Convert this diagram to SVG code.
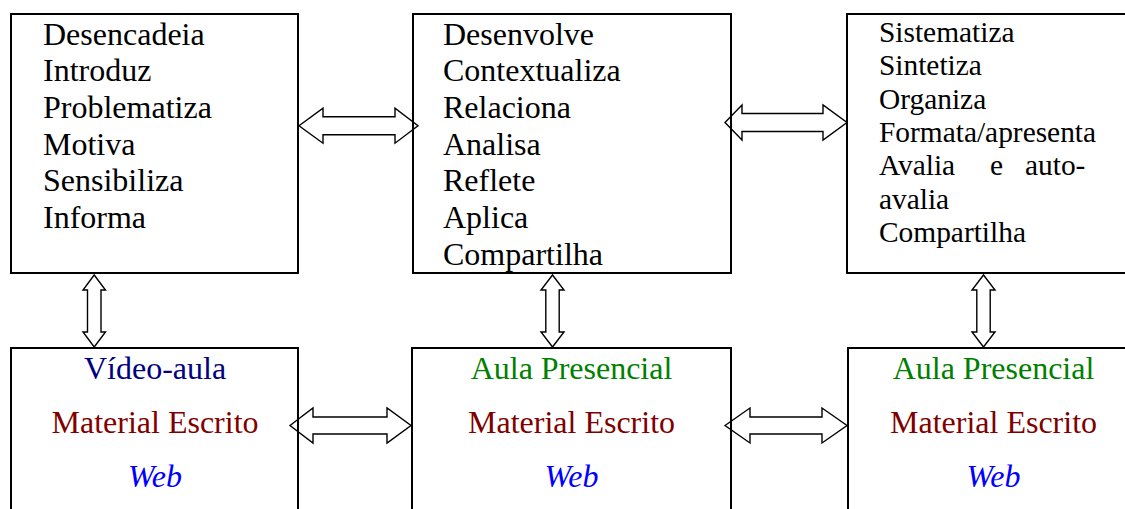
<svg xmlns="http://www.w3.org/2000/svg" width="1125" height="509" viewBox="0 0 1125 509">
<style>
.box{fill:none;stroke:#000;stroke-width:2}
.arr{fill:#fff;stroke:#000;stroke-width:1.4;stroke-linejoin:miter}
text{font-family:'Liberation Serif','Times New Roman',Times,serif}
.t{font-size:32px;fill:#000}
.t3{font-size:29.4px;fill:#000}
.c{font-size:32px;text-anchor:middle}
.nav{fill:#000080}.grn{fill:#008000}.red{fill:#800000}.web{fill:#0000ff;font-style:italic}
</style>
<rect x="0" y="0" width="1125" height="509" fill="#fff"/>
<g id="connectors">
<path class="arr" d="M299,125.7 L323,108.2 L323,116.7 L395,116.7 L395,108.2 L418,125.7 L395,143.2 L395,134.7 L323,134.7 L323,143.2 Z"/>
<path class="arr" d="M725,122.5 L742,105 L742,113.5 L823,113.5 L823,105 L847,122.5 L823,140 L823,131.5 L742,131.5 L742,140 Z"/>
<path class="arr" d="M290,425.5 L313,408 L313,417 L387,417 L387,408 L411,425.5 L387,443 L387,434 L313,434 L313,443 Z"/>
<path class="arr" d="M725,425.5 L750,408 L750,417 L822,417 L822,408 L847,425.5 L822,443 L822,434 L750,434 L750,443 Z"/>
<path class="arr" d="M94.2,275 L105.5,290 L101,290 L101,332 L105.5,332 L94.2,347 L83,332 L87.5,332 L87.5,290 L83,290 Z"/>
<path class="arr" d="M552.5,275 L564,290 L559.2,290 L559.2,332 L564,332 L552.5,347 L541,332 L545.8,332 L545.8,290 L541,290 Z"/>
<path class="arr" d="M983.5,275 L995,290 L990.2,290 L990.2,332 L995,332 L983.5,347 L972,332 L976.8,332 L976.8,290 L972,290 Z"/>
</g>
<g id="node-top1">
<rect class="box" x="11" y="14" width="287" height="259"/>
<text class="t" x="43" y="44.5">Desencadeia</text>
<text class="t" x="43" y="81.2">Introduz</text>
<text class="t" x="43" y="117.9">Problematiza</text>
<text class="t" x="43" y="154.6">Motiva</text>
<text class="t" x="43" y="191.3">Sensibiliza</text>
<text class="t" x="43" y="228">Informa</text>
</g>
<g id="node-top2">
<rect class="box" x="413" y="14" width="318" height="259"/>
<text class="t" x="443" y="44.5">Desenvolve</text>
<text class="t" x="443" y="81.2">Contextualiza</text>
<text class="t" x="443" y="117.9">Relaciona</text>
<text class="t" x="443" y="154.6">Analisa</text>
<text class="t" x="443" y="191.3">Reflete</text>
<text class="t" x="443" y="228">Aplica</text>
<text class="t" x="443" y="264.7">Compartilha</text>
</g>
<g id="node-top3">
<rect class="box" x="847" y="14" width="300" height="259"/>
<text class="t3" x="879" y="42">Sistematiza</text>
<text class="t3" x="879" y="75.3">Sintetiza</text>
<text class="t3" x="879" y="108.6">Organiza</text>
<text class="t3" x="879" y="141.9">Formata/apresenta</text>
<text class="t3" x="879" y="175.2">Avalia</text>
<text class="t3" x="990" y="175.2">e</text>
<text class="t3" x="1025" y="175.2">auto-</text>
<text class="t3" x="879" y="208.5">avalia</text>
<text class="t3" x="879" y="241.8">Compartilha</text>
</g>
<g id="node-bottom1">
<rect class="box" x="11" y="348" width="287" height="200"/>
<text class="c nav" x="155" y="379">Vídeo-aula</text>
<text class="c red" x="155" y="433">Material Escrito</text>
<text class="c web" x="155" y="487">Web</text>
</g>
<g id="node-bottom2">
<rect class="box" x="412" y="348" width="319" height="200"/>
<text class="c grn" x="571.5" y="379">Aula Presencial</text>
<text class="c red" x="571.5" y="433">Material Escrito</text>
<text class="c web" x="571.5" y="487">Web</text>
</g>
<g id="node-bottom3">
<rect class="box" x="848" y="348" width="300" height="200"/>
<text class="c grn" x="993.5" y="379">Aula Presencial</text>
<text class="c red" x="993.5" y="433">Material Escrito</text>
<text class="c web" x="993.5" y="487">Web</text>
</g>
</svg>
